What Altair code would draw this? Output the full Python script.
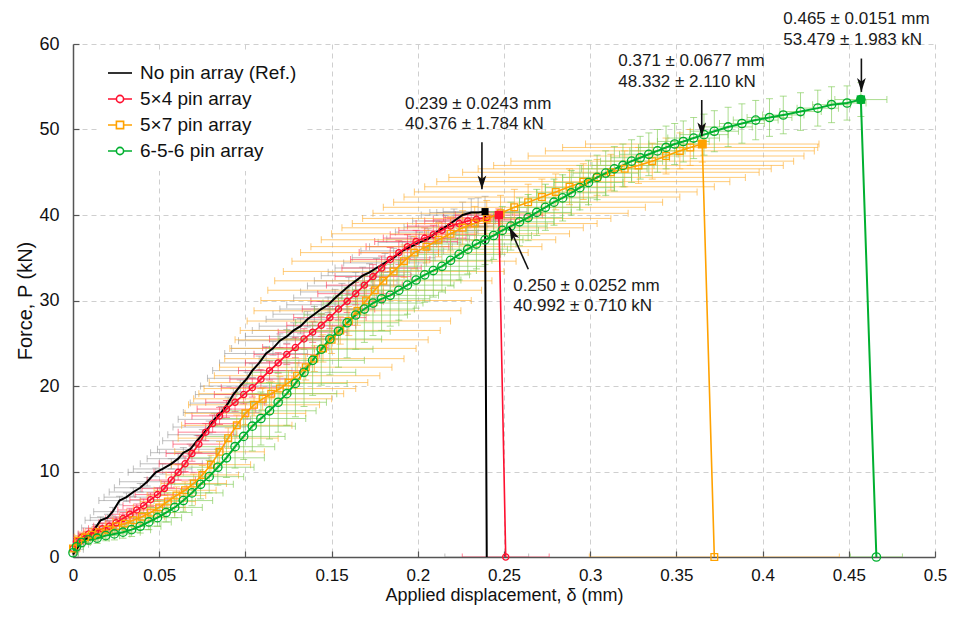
import altair as alt
import pandas as pd

FONT = "Liberation Sans"

SERIES = ["No pin array (Ref.)", "5×4 pin array", "5×7 pin array", "6-5-6 pin array"]

# (displacement mm, force kN, displacement std, force std)
REF_PTS = [
    (0.000, 0.3, 0.003, 0.3), (0.002, 0.9, 0.004, 0.3), (0.004, 1.5, 0.005, 0.3),
    (0.007, 2.0, 0.006, 0.4), (0.010, 2.6, 0.007, 0.4), (0.013, 3.4, 0.008, 0.4),
    (0.016, 4.3, 0.009, 0.4), (0.020, 4.6, 0.010, 0.4), (0.023, 5.3, 0.011, 0.5),
    (0.027, 6.6, 0.012, 0.5), (0.031, 7.0, 0.013, 0.5), (0.035, 7.6, 0.014, 0.5),
    (0.039, 8.1, 0.015, 0.5), (0.043, 8.8, 0.016, 0.5), (0.048, 9.9, 0.016, 0.5),
    (0.052, 10.3, 0.017, 0.6), (0.057, 10.9, 0.018, 0.6), (0.061, 11.5, 0.018, 0.6),
    (0.064, 12.2, 0.019, 0.6), (0.068, 12.6, 0.019, 0.6), (0.072, 13.6, 0.020, 0.6),
    (0.075, 14.3, 0.020, 0.6), (0.079, 15.2, 0.021, 0.7), (0.082, 16.1, 0.021, 0.7),
    (0.086, 16.9, 0.022, 0.7), (0.090, 18.0, 0.022, 0.7), (0.093, 19.0, 0.022, 0.7),
    (0.097, 20.0, 0.023, 0.7), (0.101, 20.9, 0.023, 0.7), (0.104, 21.8, 0.023, 0.8),
    (0.108, 22.7, 0.023, 0.8), (0.112, 23.8, 0.024, 0.8), (0.116, 24.4, 0.024, 0.8),
    (0.120, 25.3, 0.024, 0.8), (0.124, 25.8, 0.024, 0.8), (0.128, 26.5, 0.024, 0.9),
    (0.132, 27.0, 0.024, 0.9), (0.136, 27.8, 0.024, 0.9), (0.140, 28.4, 0.024, 0.9),
    (0.144, 29.0, 0.024, 0.9), (0.148, 29.5, 0.024, 0.9), (0.152, 30.3, 0.024, 1.0),
    (0.156, 31.0, 0.024, 1.0), (0.160, 31.7, 0.024, 1.0), (0.164, 32.3, 0.024, 1.0),
    (0.168, 32.9, 0.024, 1.0), (0.172, 33.3, 0.024, 1.0), (0.176, 33.8, 0.024, 1.1),
    (0.181, 34.4, 0.024, 1.1), (0.186, 35.0, 0.024, 1.1), (0.191, 35.8, 0.024, 1.1),
    (0.196, 36.3, 0.024, 1.2), (0.201, 36.8, 0.024, 1.2), (0.206, 37.2, 0.024, 1.2),
    (0.211, 38.0, 0.024, 1.3), (0.216, 38.6, 0.024, 1.3), (0.221, 39.3, 0.024, 1.4),
    (0.226, 40.0, 0.024, 1.5), (0.231, 40.3, 0.024, 1.6), (0.235, 40.3, 0.024, 1.7),
    (0.239, 40.4, 0.0243, 1.784), (0.240, 0.0, 0.0243, 0.0),
]

PIN54_PTS = [
    (0.000, 1.0, 0.003, 0.5), (0.002, 1.8, 0.004, 0.5), (0.005, 2.3, 0.005, 0.5),
    (0.009, 2.7, 0.006, 0.6), (0.013, 3.0, 0.007, 0.6), (0.017, 3.3, 0.008, 0.6),
    (0.021, 3.6, 0.009, 0.6), (0.025, 4.0, 0.010, 0.7), (0.029, 4.5, 0.010, 0.7),
    (0.033, 5.0, 0.011, 0.7), (0.037, 5.5, 0.011, 0.7), (0.041, 6.0, 0.012, 0.8),
    (0.045, 6.7, 0.012, 0.8), (0.049, 7.3, 0.013, 0.8), (0.053, 8.0, 0.013, 0.8),
    (0.057, 9.0, 0.014, 0.9), (0.061, 9.9, 0.014, 0.9), (0.065, 10.9, 0.015, 0.9),
    (0.069, 12.1, 0.015, 0.9), (0.073, 13.2, 0.015, 1.0), (0.077, 14.6, 0.016, 1.0),
    (0.081, 15.6, 0.016, 1.0), (0.085, 16.5, 0.016, 1.0), (0.089, 17.3, 0.017, 1.0),
    (0.094, 18.1, 0.017, 1.1), (0.099, 19.0, 0.017, 1.1), (0.104, 19.8, 0.018, 1.1),
    (0.109, 20.8, 0.018, 1.1), (0.114, 21.8, 0.018, 1.1), (0.119, 22.7, 0.019, 1.2),
    (0.124, 23.7, 0.019, 1.2), (0.129, 24.5, 0.019, 1.2), (0.134, 25.5, 0.020, 1.2),
    (0.139, 26.3, 0.020, 1.2), (0.144, 27.1, 0.020, 1.3), (0.149, 28.0, 0.021, 1.3),
    (0.154, 29.0, 0.021, 1.3), (0.159, 29.9, 0.021, 1.3), (0.164, 30.8, 0.022, 1.3),
    (0.169, 31.8, 0.022, 1.3), (0.174, 32.8, 0.022, 1.4), (0.179, 33.8, 0.023, 1.4),
    (0.184, 34.8, 0.023, 1.4), (0.189, 35.6, 0.023, 1.4), (0.194, 36.3, 0.024, 1.4),
    (0.199, 36.9, 0.024, 1.3), (0.204, 37.3, 0.024, 1.2), (0.209, 37.7, 0.025, 1.1),
    (0.214, 38.2, 0.025, 1.0), (0.219, 38.7, 0.025, 0.9), (0.224, 39.0, 0.025, 0.9),
    (0.229, 39.3, 0.025, 0.8), (0.234, 39.5, 0.025, 0.8), (0.240, 39.7, 0.025, 0.7),
    (0.247, 40.0, 0.0252, 0.710), (0.251, 0.0, 0.0252, 0.0),
]

PIN57_PTS = [
    (0.000, 1.0, 0.004, 0.6), (0.003, 1.9, 0.005, 0.6), (0.007, 2.3, 0.006, 0.6),
    (0.011, 2.6, 0.007, 0.7), (0.015, 2.9, 0.008, 0.7), (0.020, 3.2, 0.009, 0.7),
    (0.025, 3.6, 0.010, 0.8), (0.030, 3.9, 0.011, 0.8), (0.035, 4.3, 0.012, 0.8),
    (0.040, 4.7, 0.013, 0.9), (0.045, 5.2, 0.014, 0.9), (0.050, 5.8, 0.015, 0.9),
    (0.055, 6.5, 0.016, 1.0), (0.060, 7.2, 0.017, 1.0), (0.065, 7.8, 0.018, 1.0),
    (0.070, 8.6, 0.019, 1.1), (0.075, 9.6, 0.021, 1.1), (0.080, 10.8, 0.023, 1.1),
    (0.085, 12.3, 0.026, 1.2), (0.090, 13.9, 0.029, 1.2), (0.095, 15.4, 0.032, 1.2),
    (0.100, 16.8, 0.035, 1.3), (0.105, 17.8, 0.038, 1.3), (0.110, 18.5, 0.040, 1.3),
    (0.115, 19.1, 0.042, 1.4), (0.120, 19.7, 0.044, 1.4), (0.125, 20.4, 0.046, 1.4),
    (0.130, 21.2, 0.048, 1.5), (0.135, 22.2, 0.050, 1.5), (0.140, 23.2, 0.052, 1.5),
    (0.145, 24.4, 0.054, 1.6), (0.150, 25.4, 0.056, 1.6), (0.155, 26.5, 0.058, 1.6),
    (0.160, 27.6, 0.059, 1.7), (0.165, 28.8, 0.060, 1.7), (0.170, 30.0, 0.061, 1.7),
    (0.175, 31.2, 0.062, 1.8), (0.180, 32.3, 0.063, 1.8), (0.186, 33.4, 0.064, 1.8),
    (0.192, 34.6, 0.065, 1.9), (0.198, 35.6, 0.066, 1.9), (0.205, 36.3, 0.067, 1.9),
    (0.212, 37.1, 0.068, 2.0), (0.219, 37.8, 0.069, 2.0), (0.226, 38.5, 0.070, 2.0),
    (0.233, 39.0, 0.071, 2.0), (0.240, 39.6, 0.072, 2.1), (0.248, 40.2, 0.074, 2.1),
    (0.256, 40.9, 0.076, 2.1), (0.264, 41.5, 0.078, 2.1), (0.272, 42.1, 0.080, 2.1),
    (0.280, 42.7, 0.082, 2.1), (0.288, 43.3, 0.084, 2.1), (0.296, 43.9, 0.085, 2.1),
    (0.304, 44.4, 0.086, 2.1), (0.312, 45.0, 0.086, 2.1), (0.320, 45.4, 0.085, 2.1),
    (0.328, 45.8, 0.084, 2.1), (0.336, 46.3, 0.082, 2.1), (0.344, 46.9, 0.080, 2.1),
    (0.352, 47.5, 0.078, 2.1), (0.358, 47.9, 0.074, 2.1),
    (0.365, 48.3, 0.0677, 2.110), (0.372, 0.0, 0.0725, 0.0),
]

PIN656_PTS = [
    (0.000, 0.5, 0.003, 0.3), (0.002, 1.2, 0.004, 0.4), (0.005, 1.7, 0.005, 0.5),
    (0.009, 2.0, 0.006, 0.5), (0.014, 2.2, 0.007, 0.6), (0.019, 2.5, 0.008, 0.6),
    (0.024, 2.7, 0.009, 0.7), (0.029, 2.9, 0.010, 0.7), (0.034, 3.2, 0.011, 0.8),
    (0.039, 3.6, 0.012, 0.8), (0.044, 4.1, 0.013, 0.9), (0.049, 4.6, 0.014, 1.0),
    (0.054, 5.2, 0.015, 1.1), (0.059, 5.8, 0.016, 1.2), (0.064, 6.6, 0.017, 1.3),
    (0.069, 7.5, 0.018, 1.5), (0.074, 8.5, 0.019, 1.7), (0.079, 9.4, 0.020, 1.9),
    (0.084, 10.5, 0.021, 2.1), (0.089, 11.6, 0.022, 2.3), (0.094, 12.9, 0.023, 2.5),
    (0.099, 14.1, 0.024, 2.7), (0.104, 15.3, 0.025, 2.9), (0.109, 16.2, 0.026, 3.1),
    (0.114, 17.1, 0.027, 3.3), (0.119, 18.1, 0.028, 3.5), (0.124, 19.1, 0.029, 3.7),
    (0.129, 20.3, 0.030, 3.9), (0.134, 21.6, 0.030, 4.0), (0.139, 23.0, 0.030, 4.1),
    (0.144, 24.3, 0.030, 4.2), (0.149, 25.5, 0.030, 4.2), (0.154, 26.4, 0.030, 4.2),
    (0.159, 27.4, 0.030, 4.1), (0.164, 28.3, 0.030, 4.0), (0.169, 29.0, 0.029, 3.9),
    (0.174, 29.7, 0.029, 3.8), (0.179, 30.2, 0.028, 3.7), (0.184, 30.6, 0.028, 3.6),
    (0.189, 31.2, 0.027, 3.5), (0.194, 31.8, 0.027, 3.4), (0.199, 32.4, 0.026, 3.3),
    (0.204, 33.0, 0.026, 3.2), (0.209, 33.5, 0.025, 3.1), (0.214, 34.0, 0.025, 3.0),
    (0.219, 34.7, 0.024, 3.0), (0.224, 35.4, 0.024, 3.0), (0.229, 36.0, 0.023, 2.9),
    (0.234, 36.6, 0.023, 2.9), (0.239, 37.1, 0.022, 2.9), (0.244, 37.6, 0.022, 2.8),
    (0.249, 38.2, 0.021, 2.8), (0.254, 38.7, 0.021, 2.8), (0.259, 39.2, 0.020, 2.8),
    (0.264, 39.7, 0.020, 2.7), (0.269, 40.3, 0.020, 2.7), (0.274, 40.9, 0.020, 2.7),
    (0.279, 41.5, 0.020, 2.7), (0.284, 42.0, 0.020, 2.7), (0.289, 42.6, 0.020, 2.6),
    (0.294, 43.2, 0.020, 2.6), (0.299, 43.8, 0.020, 2.6), (0.304, 44.4, 0.020, 2.6),
    (0.309, 44.9, 0.019, 2.6), (0.314, 45.4, 0.019, 2.6), (0.319, 45.8, 0.018, 2.5),
    (0.324, 46.3, 0.018, 2.5), (0.329, 46.7, 0.017, 2.5), (0.334, 47.1, 0.017, 2.5),
    (0.339, 47.5, 0.016, 2.5), (0.344, 47.9, 0.016, 2.5), (0.349, 48.3, 0.015, 2.4),
    (0.354, 48.6, 0.015, 2.4), (0.360, 49.0, 0.015, 2.4), (0.366, 49.4, 0.014, 2.4),
    (0.372, 49.8, 0.014, 2.4), (0.380, 50.3, 0.014, 2.3), (0.388, 50.7, 0.013, 2.3),
    (0.396, 51.1, 0.013, 2.3), (0.404, 51.4, 0.013, 2.2), (0.412, 51.7, 0.012, 2.2),
    (0.422, 52.1, 0.012, 2.2), (0.432, 52.5, 0.012, 2.1), (0.440, 52.9, 0.011, 2.1),
    (0.449, 53.1, 0.011, 2.0), (0.457, 53.5, 0.0151, 1.983), (0.466, 0.0, 0.0151, 0.0),
]

TICKS_X = [0, 0.05, 0.1, 0.15, 0.2, 0.25, 0.3, 0.35, 0.4, 0.45, 0.5]
TICKS_Y = [0, 10, 20, 30, 40, 50, 60]

ANN_X = [0.1926, 0.1926, 0.3163, 0.3163, 0.4120, 0.4120, 0.2554, 0.2554]
ANN_Y = [53.0, 50.6, 58.0, 55.6, 62.9, 60.5, 31.7, 29.3]
ANN_TEXT = [
    "0.239 ± 0.0243 mm", "40.376 ± 1.784 kN",
    "0.371 ± 0.0677 mm", "48.332 ± 2.110 kN",
    "0.465 ± 0.0151 mm", "53.479 ± 1.983 kN",
    "0.250 ± 0.0252 mm", "40.992 ± 0.710 kN",
]

ARROW_X1 = [0.2372, 0.3647, 0.4573, 0.2641]
ARROW_Y1 = [48.5, 53.45, 58.3, 33.65]
ARROW_X2 = [0.2372, 0.3647, 0.4573, 0.2531]
ARROW_Y2 = [43.0, 49.2, 54.4, 38.6]
ARROW_ANGLE = [0, 0, 0, 154.5]

# styles
LINE_COLORS = ["#000000", "#ff1030", "#ffa200", "#00b030"]
ERR_COLORS = ["#8c8c8c", "#ff3050", "#ffae2e", "#7fcb55"]
ERR_OPACITY = [0.55, 0.6, 0.65, 0.65]
MARKERS = [None, "circle", "square", "circle"]
MARKER_SIZES = [0, 38, 45, 70]
PEAK_SIZES = [50, 70, 80, 70]
LINE_WIDTHS = [2, 1.6, 1.6, 2]
LEGEND_SHAPES = [
    "M-1,0L1,0",
    "M-1,0L-0.3,0M0.3,0L1,0M0.3,0A0.3,0.3,0,1,1,-0.3,0A0.3,0.3,0,1,1,0.3,0",
    "M-1,0L-0.3,0M0.3,0L1,0M-0.3,-0.3L0.3,-0.3L0.3,0.3L-0.3,0.3Z",
    "M-1,0L-0.3,0M0.3,0L1,0M0.3,0A0.3,0.3,0,1,1,-0.3,0A0.3,0.3,0,1,1,0.3,0",
]
ARROW_PATH = "M0,0L-0.75,-2.4L0,-1.8L0.75,-2.4Z"


def frame(name, pts):
    df = pd.DataFrame(pts, columns=["d", "p", "dx", "dp"])
    df["series"] = name
    df["order"] = range(len(df))
    n = len(df)
    df["kind"] = ["curve"] * (n - 2) + ["peak", "drop"]
    df["x_lo"] = df["d"] - df["dx"]
    df["x_hi"] = df["d"] + df["dx"]
    df["y_lo"] = (df["p"] - df["dp"]).clip(lower=0)
    df["y_hi"] = df["p"] + df["dp"]
    return df


frames = [frame(n, p) for n, p in zip(SERIES, [REF_PTS, PIN54_PTS, PIN57_PTS, PIN656_PTS])]
all_df = pd.concat(frames, ignore_index=True)

XS = alt.Scale(domain=[0, 0.5], nice=False, zero=False)
YS = alt.Scale(domain=[0, 60], nice=False, zero=False)

XAXIS = alt.Axis(values=TICKS_X, format="~g", title="Applied displacement, δ (mm)",
                 labelPadding=16, labelFontSize=17, titlePadding=3, titleFontSize=18,
                 tickSize={"expr": "-6"})
YAXIS = alt.Axis(values=TICKS_Y, title="Force, P (kN)",
                 labelPadding=20, titlePadding=3, titleFontSize=20, tickSize={"expr": "-6"})


def ex(f):
    return alt.X(f, type="quantitative", scale=XS, axis=XAXIS)


def ey(f):
    return alt.Y(f, type="quantitative", scale=YS, axis=YAXIS)


layers = []

# error bars
for i, df in enumerate(frames):
    base = alt.Chart(df)
    ec, eo = ERR_COLORS[i], ERR_OPACITY[i]
    layers.append(base.mark_rule(color=ec, opacity=eo, strokeWidth=1, clip=True).encode(
        x=ex("x_lo"), x2="x_hi", y=ey("p")))
    for f in ["x_lo", "x_hi"]:
        layers.append(base.mark_tick(orient="vertical", size=7, thickness=1, color=ec,
                                     opacity=eo, clip=True).encode(x=ex(f), y=ey("p")))
    vb = base.transform_filter("datum.dp > 0")
    layers.append(vb.mark_rule(color=ec, opacity=eo, strokeWidth=1, clip=True).encode(
        x=ex("d"), y=ey("y_lo"), y2="y_hi"))
    for f in ["y_lo", "y_hi"]:
        layers.append(vb.mark_tick(orient="horizontal", size=7, thickness=1, color=ec,
                                   opacity=eo, clip=True).encode(x=ex("d"), y=ey(f)))

# lines
for i, df in enumerate(frames):
    layers.append(alt.Chart(df).mark_line(color=LINE_COLORS[i], strokeWidth=LINE_WIDTHS[i]).encode(
        x=ex("d"), y=ey("p"), order=alt.Order("order:Q")))

# markers
for i, df in enumerate(frames):
    if MARKERS[i] is None:
        continue
    layers.append(alt.Chart(df).mark_point(shape=MARKERS[i], filled=False, size=MARKER_SIZES[i],
                                           strokeWidth=1.3, color=LINE_COLORS[i], opacity=1).encode(
        x=ex("d"), y=ey("p")))

# peak (failure) markers
for i, df in enumerate(frames):
    layers.append(alt.Chart(df).transform_filter("datum.kind == 'peak'").mark_point(
        shape="square", filled=True, size=PEAK_SIZES[i], color=LINE_COLORS[i], opacity=1).encode(
        x=ex("d"), y=ey("p")))

# arrows
arrows = pd.DataFrame({"x1": ARROW_X1, "y1": ARROW_Y1, "x2": ARROW_X2, "y2": ARROW_Y2, "ang": ARROW_ANGLE})
layers.append(alt.Chart(arrows).mark_rule(color="#111111", strokeWidth=1.6).encode(
    x=ex("x1"), y=ey("y1"), x2="x2", y2="y2"))
layers.append(alt.Chart(arrows).mark_point(shape=ARROW_PATH, filled=True, size=135, color="#111111",
                                           opacity=1, strokeWidth=0).encode(
    x=ex("x2"), y=ey("y2"), angle=alt.Angle("ang:Q", scale=None)))

# annotation text
ann = pd.DataFrame({"x": ANN_X, "y": ANN_Y, "t": ANN_TEXT})
layers.append(alt.Chart(ann).mark_text(align="left", baseline="middle", font=FONT, fontSize=17,
                                       color="#1a1a1a").encode(x=ex("x"), y=ey("y"), text="t:N"))

# legend layer (no visible data)
LEG = alt.Legend(title=None, orient="none", legendX=24, legendY=6, fillColor="white", padding=10,
                 labelFont=FONT, labelFontSize=19, labelColor="#111111", labelLimit=400,
                 labelOffset=7, symbolSize=576, symbolStrokeWidth=1.6, rowPadding=3)
layers.append(alt.Chart(all_df).transform_filter("false").mark_point(
    filled=False, opacity=1, strokeWidth=1.6).encode(
    x=ex("d"), y=ey("p"),
    color=alt.Color("series:N", scale=alt.Scale(domain=SERIES, range=LINE_COLORS), legend=LEG),
    shape=alt.Shape("series:N", scale=alt.Scale(domain=SERIES, range=LEGEND_SHAPES), legend=LEG),
))

chart = alt.layer(*layers).properties(
    width=862, height=513,
    autosize=alt.AutoSizeParams(type="none"),
    padding={"left": 65, "top": 36, "right": 13, "bottom": 49},
).configure_view(stroke=None).configure_axis(
    grid=True, gridColor="#cfcfcf", gridDash=[5, 4], gridWidth=1,
    domainColor="#555555", domainWidth=1.5, tickColor="#555555", tickWidth=1.2,
    labelFont=FONT, labelFontSize=18, labelColor="#111111", labelFlush=False, labelOverlap=False,
    titleFont=FONT, titleFontSize=18, titleFontWeight="normal", titleColor="#111111",
)

chart.save("out.html", embed_options={"renderer": "svg", "actions": False})
